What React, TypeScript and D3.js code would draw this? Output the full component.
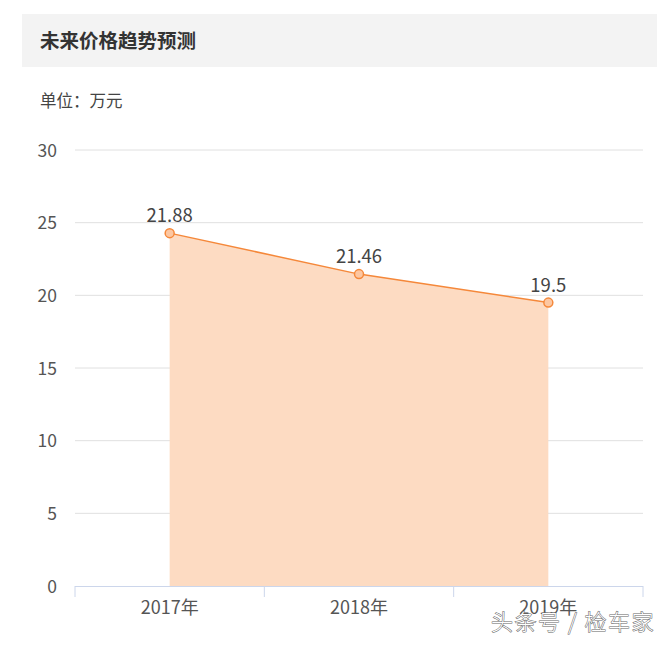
import React, { useEffect, useRef } from 'react';
import * as d3 from 'd3';

const years = ['2017年', '2018年', '2019年'];
// plotted positions
const prices = [24.28, 21.46, 19.5];
// data labels as printed on the picture
const priceLabels = ['21.88', '21.46', '19.5'];
const yTicks = [0, 5, 10, 15, 20, 25, 30];

const title = '未来价格趋势预测';
const unitText = '单位：万元';
const watermark = '头条号 / 检车家';

const W = 670;
const H = 646;
const FONT = '"Noto Sans CJK SC", "Noto Sans", sans-serif';

const App = () => {
  const container = useRef(null);

  useEffect(() => {
    const svg = d3
      .select(container.current)
      .selectAll('svg')
      .data([0])
      .join('svg')
      .attr('width', W)
      .attr('height', H)
      .style('display', 'block')
      .style('font-family', FONT);

    svg.selectAll('*').remove();

    svg.append('rect').attr('width', W).attr('height', H).attr('fill', '#fff');

    // header bar
    svg
      .append('rect')
      .attr('x', 22)
      .attr('y', 14)
      .attr('width', 635)
      .attr('height', 53)
      .attr('fill', '#f3f3f3');
    svg
      .append('text')
      .attr('x', 40)
      .attr('y', 48)
      .attr('font-size', 19.5)
      .attr('font-weight', 'bold')
      .attr('fill', '#333')
      .text(title);

    svg
      .append('text')
      .attr('x', 40)
      .attr('y', 107)
      .attr('font-size', 16.5)
      .attr('fill', '#444')
      .text(unitText);

    const x = d3.scaleBand().domain(years).range([75, 643]);
    const y = d3.scaleLinear().domain([0, 30]).range([586, 150]);
    const cx = d => x(d) + x.bandwidth() / 2;

    // grid lines
    svg
      .append('g')
      .selectAll('line')
      .data(yTicks.filter(t => t > 0))
      .join('line')
      .attr('x1', 75)
      .attr('x2', 643)
      .attr('y1', d => y(d))
      .attr('y2', d => y(d))
      .attr('stroke', '#e0e0e0')
      .attr('stroke-width', 1);

    // y labels
    svg
      .append('g')
      .selectAll('text')
      .data(yTicks)
      .join('text')
      .attr('x', 57)
      .attr('y', d => y(d) + 6.5)
      .attr('text-anchor', 'end')
      .attr('font-size', 17.5)
      .attr('fill', '#555')
      .text(d => d);

    const pts = years.map((c, i) => ({ c, v: prices[i], label: priceLabels[i] }));

    const area = d3
      .area()
      .x(d => cx(d.c))
      .y0(y(0))
      .y1(d => y(d.v));
    svg
      .append('path')
      .datum(pts)
      .attr('d', area)
      .attr('fill', '#fddbc2');

    const line = d3
      .line()
      .x(d => cx(d.c))
      .y(d => y(d.v));
    svg
      .append('path')
      .datum(pts)
      .attr('d', line)
      .attr('fill', 'none')
      .attr('stroke', '#f5883a')
      .attr('stroke-width', 1.5);

    // x axis
    const xaxisg = svg.append('g');
    xaxisg
      .append('line')
      .attr('x1', 75)
      .attr('x2', 643)
      .attr('y1', y(0) + 0.5)
      .attr('y2', y(0) + 0.5)
      .attr('stroke', '#ccd6eb');
    const tickXs = years.map(c => x(c)).concat([x(years[years.length - 1]) + x.bandwidth()]);
    xaxisg
      .selectAll('.tick')
      .data(tickXs)
      .join('line')
      .attr('class', 'tick')
      .attr('x1', d => d)
      .attr('x2', d => d)
      .attr('y1', y(0))
      .attr('y2', y(0) + 11)
      .attr('stroke', '#ccd6eb');
    xaxisg
      .selectAll('text')
      .data(years)
      .join('text')
      .attr('x', d => cx(d))
      .attr('y', 614)
      .attr('text-anchor', 'middle')
      .attr('font-size', 18)
      .attr('fill', '#555')
      .text(d => d);

    // markers
    svg
      .append('g')
      .selectAll('circle')
      .data(pts)
      .join('circle')
      .attr('cx', d => cx(d.c))
      .attr('cy', d => y(d.v))
      .attr('r', 4.5)
      .attr('fill', '#fcc7a2')
      .attr('stroke', '#f5883a')
      .attr('stroke-width', 1.5);

    // data labels
    svg
      .append('g')
      .selectAll('text')
      .data(pts)
      .join('text')
      .attr('x', d => cx(d.c))
      .attr('y', d => y(d.v) - 11)
      .attr('text-anchor', 'middle')
      .attr('font-size', 18.5)
      .attr('fill', '#444')
      .text(d => d.label);

    // watermark
    svg
      .append('text')
      .attr('x', 655)
      .attr('y', 630)
      .attr('text-anchor', 'end')
      .attr('font-size', 22)
      .attr('font-weight', 300)
      .attr('letter-spacing', 1.5)
      .attr('fill', '#fff')
      .attr('stroke', '#666')
      .attr('stroke-width', 1)
      .attr('paint-order', 'stroke')
      .text(watermark);
  }, []);

  return (
    <div
      ref={container}
      style={{ position: 'absolute', left: 0, top: 0, width: W, height: H }}
    ></div>
  );
};

export default App;
